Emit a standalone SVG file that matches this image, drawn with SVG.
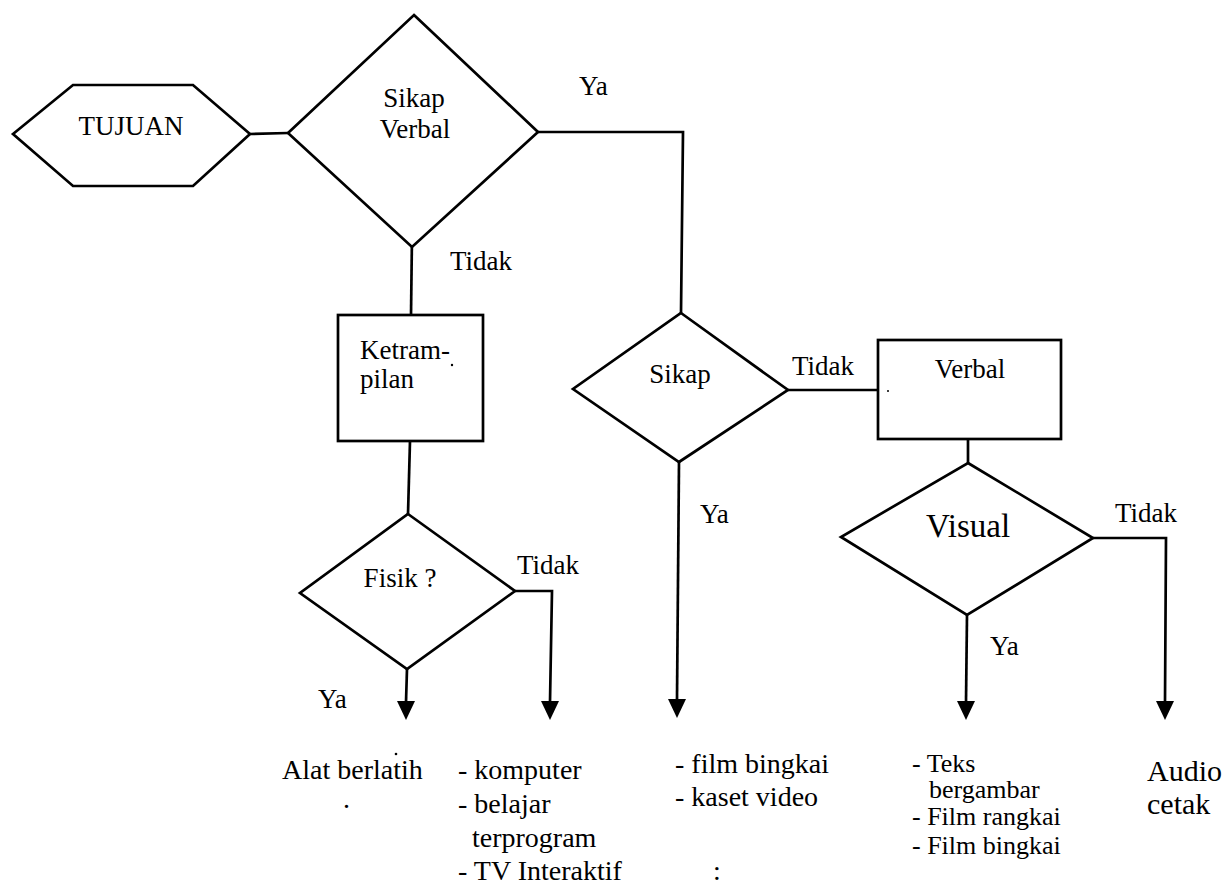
<svg xmlns="http://www.w3.org/2000/svg" width="1230" height="890" viewBox="0 0 1230 890">
<style>
  .shape { fill: #ffffff; stroke: #000000; stroke-width: 2.7; stroke-linejoin: miter; }
  .conn { fill: none; stroke: #000000; stroke-width: 2.7; }
  .head { fill: #000000; }
  .speck { fill: #000000; }
  text { font-family: "Liberation Serif", "Times New Roman", serif; fill: #000000; }
  .lbl { font-size: 27px; }
  .big { font-size: 33px; }
  .out { font-size: 28px; }
  .out2 { font-size: 26px; }
  .out3 { font-size: 30px; }
</style>
<rect width="1230" height="890" fill="#ffffff"/>

<g id="connectors">
  <line class="conn" x1="250" y1="134" x2="288" y2="133"/>
  <polyline class="conn" points="538,132 683,132 681,313"/>
  <line class="conn" x1="412" y1="235" x2="411" y2="315"/>
  <line class="conn" x1="410" y1="441" x2="408" y2="514"/>
  <line class="conn" x1="788" y1="390" x2="878" y2="390"/>
  <line class="conn" x1="968" y1="439" x2="968" y2="463"/>
  <line class="conn" x1="407" y1="669" x2="406" y2="702"/>
  <polygon class="head" points="397,701 415,701 406,720"/>
  <polyline class="conn" points="515,591 552,591 550,702"/>
  <polygon class="head" points="541,701 559,701 550,720"/>
  <line class="conn" x1="679" y1="462" x2="677" y2="700"/>
  <polygon class="head" points="668,699 686,699 677,718"/>
  <line class="conn" x1="967" y1="615" x2="966" y2="702"/>
  <polygon class="head" points="957,701 975,701 966,720"/>
  <polyline class="conn" points="1093,538 1166,538 1165,702"/>
  <polygon class="head" points="1156,701 1174,701 1165,720"/>
</g>

<g id="node-tujuan">
  <polygon class="shape" points="13,134 73,85 193,85 250,134 193,186 73,186"/>
  <text class="lbl" x="131" y="135" text-anchor="middle">TUJUAN</text>
</g>

<g id="node-sikap-verbal">
  <polygon class="shape" points="414,15 538,132 412,247 288,133"/>
  <text class="lbl" x="414" y="107" text-anchor="middle">Sikap</text>
  <text class="lbl" x="415" y="138" text-anchor="middle">Verbal</text>
</g>

<g id="node-ketrampilan">
  <rect class="shape" x="338" y="315" width="145" height="126"/>
  <text class="lbl" x="360" y="359">Ketram-</text>
  <text class="lbl" x="360" y="388">pilan</text>
  <circle class="speck" cx="452" cy="365" r="1.2"/>
</g>

<g id="node-fisik">
  <polygon class="shape" points="408,514 515,591 407,669 300,593"/>
  <text class="lbl" x="400" y="587" text-anchor="middle">Fisik ?</text>
</g>

<g id="node-sikap">
  <polygon class="shape" points="681,313 788,390 679,462 573,389"/>
  <text class="lbl" x="680" y="383" text-anchor="middle">Sikap</text>
</g>

<g id="node-verbal">
  <rect class="shape" x="878" y="340" width="183" height="99"/>
  <text class="lbl" x="970" y="378" text-anchor="middle">Verbal</text>
  <circle class="speck" cx="888" cy="391" r="1"/>
</g>

<g id="node-visual">
  <polygon class="shape" points="968,463 1093,538 967,615 841,537"/>
  <text class="big" x="968" y="537" text-anchor="middle">Visual</text>
</g>

<g id="edge-labels">
  <text class="lbl" x="579" y="95">Ya</text>
  <text class="lbl" x="450" y="270">Tidak</text>
  <text class="lbl" x="792" y="375">Tidak</text>
  <text class="lbl" x="517" y="574">Tidak</text>
  <text class="lbl" x="318" y="708">Ya</text>
  <text class="lbl" x="700" y="523">Ya</text>
  <text class="lbl" x="1115" y="522">Tidak</text>
  <text class="lbl" x="990" y="655">Ya</text>
</g>

<g id="outputs">
  <text class="out" x="282" y="779">Alat berlatih</text>
  <circle class="speck" cx="396" cy="754" r="1.3"/>
  <text class="out" x="343" y="808">.</text>
  <text class="out" x="458" y="779">- komputer</text>
  <text class="out" x="458" y="813">- belajar</text>
  <text class="out" x="472" y="847">terprogram</text>
  <text class="out" x="458" y="880">- TV Interaktif</text>
  <text class="out" x="713" y="880">:</text>
  <text class="out" x="675" y="773">- film bingkai</text>
  <text class="out" x="675" y="806">- kaset video</text>
  <text class="out2" x="912" y="772">- Teks</text>
  <text class="out2" x="929" y="798">bergambar</text>
  <text class="out2" x="912" y="825">- Film rangkai</text>
  <text class="out2" x="912" y="854">- Film bingkai</text>
  <text class="out3" x="1147" y="781">Audio</text>
  <text class="out3" x="1147" y="814">cetak</text>
</g>
</svg>
